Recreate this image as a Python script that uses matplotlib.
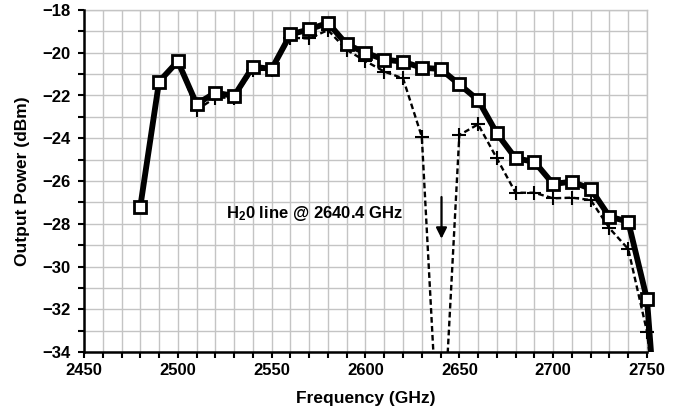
import matplotlib
matplotlib.use('Agg')
import matplotlib.pyplot as plt
from matplotlib.ticker import MultipleLocator
from matplotlib.patches import Rectangle

# measured output power (squares, solid) and through-air power (crosses, dashed)
freq = [2480, 2490, 2500, 2510, 2520, 2530, 2540, 2550, 2560, 2570, 2580,
        2590, 2600, 2610, 2620, 2630, 2640, 2650, 2660, 2670, 2680, 2690,
        2700, 2710, 2720, 2730, 2740, 2750]
power = [-27.2, -21.35, -20.4, -22.4, -21.87, -22.02, -20.65, -20.76, -19.14,
         -18.91, -18.6, -19.61, -20.0, -20.32, -20.42, -20.7, -20.76, -21.48,
         -22.21, -23.77, -24.94, -25.1, -26.14, -26.03, -26.37, -27.67, -27.9,
         -31.54]
power_air = [-27.2, -21.35, -20.4, -22.68, -22.1, -22.1, -20.8, -20.8, -19.3,
             -19.33, -18.94, -19.87, -20.39, -20.88, -21.2, -23.93, -40.3,
             -23.85, -23.35, -24.94, -26.55, -26.55, -26.81, -26.78, -26.89,
             -28.21, -29.18, -33.05]
# where the curves run off the bottom just past the last marker
end_freq = [2753, 2752.5]
end_power = [-35.0, -35.0]

plt.rcParams['font.family'] = ['Liberation Sans', 'DejaVu Sans']
plt.rcParams['font.weight'] = 'bold'
plt.rcParams['mathtext.default'] = 'regular'

fig = plt.figure(figsize=(6.8, 4.15), dpi=100)
ax = fig.add_axes([84/680, 1-352/415, (647-84)/680, (352-10)/415])
clip = Rectangle((0, 0), 1.02, 1, transform=ax.transAxes, fc='none', ec='none')
ax.add_patch(clip)

# dashed line with crosses
l1, = ax.plot(freq + [end_freq[1]], power_air + [end_power[1]], color='black',
              lw=1.7, ls=(0, (2.4, 1.4)), zorder=3)
l1.set_clip_path(clip)
ax.plot(freq[3:], power_air[3:], ls='none', color='black', marker='+', ms=10,
        mew=1.5, zorder=3, clip_on=False)

# thick solid line with open squares
l2, = ax.plot(freq + [end_freq[0]], power + [end_power[0]], color='black', lw=4.2,
              solid_joinstyle='miter', zorder=4)
l2.set_clip_path(clip)
ax.plot(freq, power, ls='none', marker='s', ms=8, mfc='white', mec='black',
        mew=2, zorder=5, clip_on=False)

ax.set_xlim(2450, 2750)
ax.set_ylim(-34, -18)
ax.xaxis.set_major_locator(MultipleLocator(50))
ax.xaxis.set_minor_locator(MultipleLocator(10))
ax.yaxis.set_major_locator(MultipleLocator(2))
ax.yaxis.set_minor_locator(MultipleLocator(1))
ax.grid(which='both', color='#c4c4c4', lw=1.0)
ax.set_axisbelow(True)

for s in ['top', 'right']:
    ax.spines[s].set_color('#c4c4c4')
    ax.spines[s].set_linewidth(1.0)
for s in ['left', 'bottom']:
    ax.spines[s].set_linewidth(1.8)
    ax.spines[s].set_zorder(6)
ax.tick_params(which='both', direction='out', length=4, width=1.5,
               labelsize=12)
ax.tick_params(axis='y', pad=5.5)
ax.tick_params(axis='x', pad=4)

ax.set_xlabel('Frequency (GHz)', fontsize=12.5, fontweight='bold', labelpad=9)
ax.set_ylabel('Output Power (dBm)', fontsize=12.5, fontweight='bold', labelpad=9)

ax.text(2525.5, -27.5, 'H$_2$0 line @ 2640.4 GHz', fontsize=12, fontweight='bold',
        va='center', ha='left')
ax.annotate('', xy=(2640.5, -28.7), xytext=(2640.5, -26.75),
            arrowprops=dict(arrowstyle='-|>', color='black', lw=1.6,
                            mutation_scale=16, shrinkA=0, shrinkB=0))

fig.savefig('out.png', dpi=100)
